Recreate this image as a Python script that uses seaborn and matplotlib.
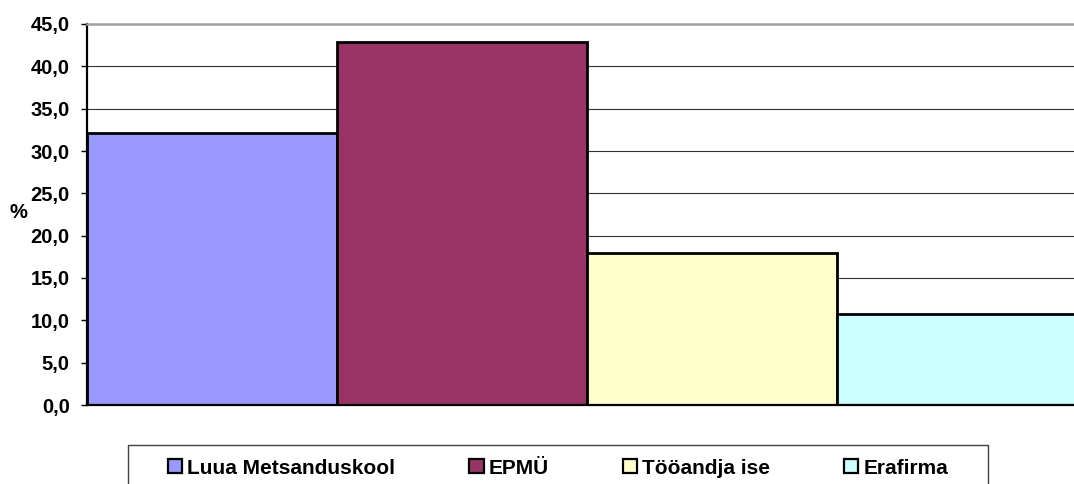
import matplotlib
matplotlib.use("Agg")
import matplotlib.pyplot as plt
from matplotlib.patches import Patch, Rectangle
import seaborn as sns
import pandas as pd

# Employer shares (%)
categories = ["Luua Metsanduskool", "EPMÜ", "Tööandja ise", "Erafirma"]
shares = [32.1, 42.9, 17.9, 10.7]
bar_colors = ["#9999FF", "#993366", "#FFFFCC", "#CCFFFF"]
yticks = [0, 5, 10, 15, 20, 25, 30, 35, 40, 45]
ytick_labels = ["0,0", "5,0", "10,0", "15,0", "20,0", "25,0", "30,0", "35,0", "40,0", "45,0"]
y_label = "%"

sns.set_theme(style="white")
plt.rcParams["font.family"] = ["Liberation Sans", "DejaVu Sans"]
plt.rcParams["font.weight"] = "bold"
plt.rcParams["text.color"] = "black"
plt.rcParams["axes.labelcolor"] = "black"
plt.rcParams["ytick.color"] = "black"

W, H = 1074, 484
fig = plt.figure(figsize=(W / 100, H / 100), dpi=100)
ax = fig.add_axes([87 / W, (H - 405) / H, 1000 / W, 381 / H])

df = pd.DataFrame({"category": categories, "share": shares})
sns.barplot(data=df, x="category", y="share", hue="category",
            palette=bar_colors, width=1.0, dodge=False, legend=False,
            edgecolor="black", linewidth=2.0, saturation=1, ax=ax)

ax.set_xlim(-0.5, len(categories) - 0.5)
ax.set_ylim(0, 45)
ax.set_yticks(yticks)
ax.set_yticklabels(ytick_labels, fontsize=14.5, fontweight="bold", color="black")
ax.set_xticks([])
ax.set_xlabel("")
ax.set_ylabel(y_label, fontsize=14.5, fontweight="bold", rotation=0,
              ha="center", va="center", color="black")
ax.yaxis.set_label_coords(-0.069, 0.505)

ax.set_axisbelow(True)
ax.yaxis.grid(True, color="#333333", linewidth=0.8)
ax.xaxis.grid(False)

ax.tick_params(axis="y", left=True, length=4, width=1, color="black", pad=8.5)
for side in ("left", "bottom"):
    ax.spines[side].set_color("black")
    ax.spines[side].set_linewidth(1.6)
ax.spines["top"].set_color("#a0a0a0")
ax.spines["top"].set_linewidth(1.8)
ax.spines["right"].set_visible(False)

# Legend box along the bottom edge
fig.patches.append(Rectangle((128 / W, (H - 492) / H), 860 / W, 47 / H,
                             transform=fig.transFigure, fill=False,
                             edgecolor="#404040", linewidth=1.0, clip_on=False))
handles = [Patch(facecolor=c, edgecolor="black", linewidth=1.6) for c in bar_colors]
fig.legend(handles, categories, loc="center left",
           bbox_to_anchor=(168 / W, (H - 468) / H), ncol=4, frameon=False,
           prop={"size": 15, "weight": "bold"},
           handlelength=0.68, handleheight=0.68, handletextpad=0.25,
           columnspacing=3.55, borderpad=0, borderaxespad=0)

fig.savefig("out.png", dpi=100)
